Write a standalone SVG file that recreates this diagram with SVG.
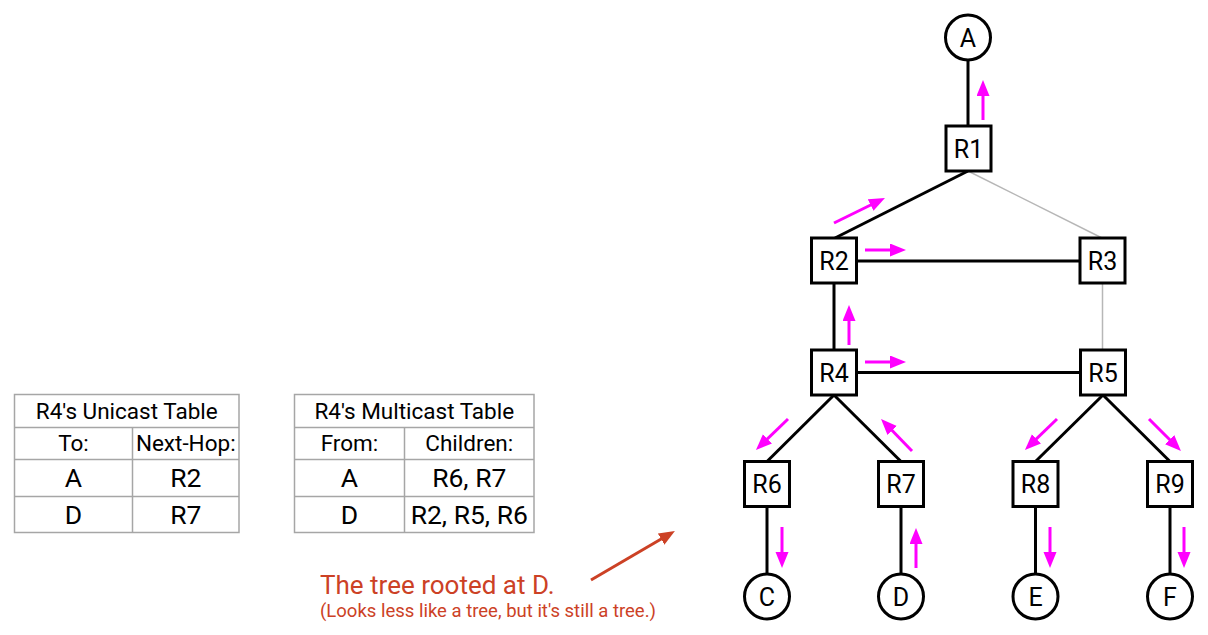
<svg xmlns="http://www.w3.org/2000/svg" width="1208" height="635" viewBox="0 0 1208 635">
<style>
text{font-family:Roboto,"Liberation Sans",sans-serif;fill:#000}
.nl{font-size:25px;text-anchor:middle}
.box{fill:#fff;stroke:#000;stroke-width:3}
.e{stroke:#000;stroke-width:3;fill:none}
.g{stroke:#b7b7b7;stroke-width:1.5;fill:none}
.m{stroke:#ff00ff;stroke-width:3;fill:none;marker-end:url(#mh)}
.tb{fill:#fff;stroke:#a6a6a6;stroke-width:1.5}
.tl{stroke:#a6a6a6;stroke-width:1.5}
.th{font-size:22.5px;text-anchor:middle}
.td{font-size:26.5px;text-anchor:middle}
.ann{fill:#cc4125}
</style>
<defs>
<marker id="mh" markerUnits="userSpaceOnUse" markerWidth="18" markerHeight="14" refX="8" refY="6.5" orient="auto">
<path d="M0,0 L16,6.5 L0,13 z" fill="#ff00ff"/>
</marker>
<marker id="rh" markerUnits="userSpaceOnUse" markerWidth="18" markerHeight="14" refX="8" refY="6.5" orient="auto">
<path d="M0,0 L16,6.5 L0,13 z" fill="#cc4125"/>
</marker>
</defs>
<rect width="1208" height="635" fill="#fff"/>

<g id="connectors">
<line class="e" x1="968" y1="60" x2="968" y2="126"/>
<line class="e" x1="968" y1="171" x2="835" y2="238"/>
<line class="g" x1="968" y1="171" x2="1102" y2="238"/>
<line class="e" x1="857" y1="261" x2="1080" y2="261"/>
<line class="e" x1="834" y1="283" x2="834" y2="350"/>
<line class="g" x1="1102.5" y1="283" x2="1102.5" y2="350"/>
<line class="e" x1="857" y1="372.5" x2="1080" y2="372.5"/>
<line class="e" x1="834" y1="395" x2="767" y2="461.5"/>
<line class="e" x1="834" y1="395" x2="901" y2="461.5"/>
<line class="e" x1="1103" y1="395" x2="1035.5" y2="461.5"/>
<line class="e" x1="1103" y1="395" x2="1170" y2="461.5"/>
<line class="e" x1="767" y1="506.5" x2="767" y2="574"/>
<line class="e" x1="901" y1="506.5" x2="901" y2="574"/>
<line class="e" x1="1035.5" y1="506.5" x2="1035.5" y2="574"/>
<line class="e" x1="1170" y1="506.5" x2="1170" y2="574"/>
</g>

<g id="flow-arrows">
<line class="m" x1="983" y1="120" x2="983" y2="88"/>
<line class="m" x1="834" y1="223" x2="877.8" y2="201.5"/>
<line class="m" x1="865" y1="250" x2="898" y2="250"/>
<line class="m" x1="849" y1="345" x2="849" y2="313"/>
<line class="m" x1="865" y1="362" x2="898" y2="362"/>
<line class="m" x1="788" y1="419" x2="761.7" y2="444.4"/>
<line class="m" x1="912" y1="451" x2="886.6" y2="424.7"/>
<line class="m" x1="1057" y1="419" x2="1030.7" y2="444.4"/>
<line class="m" x1="1149" y1="419" x2="1175.3" y2="445.3"/>
<line class="m" x1="782" y1="527" x2="782" y2="560"/>
<line class="m" x1="916" y1="568" x2="916" y2="536"/>
<line class="m" x1="1050" y1="527" x2="1050" y2="560"/>
<line class="m" x1="1184" y1="527" x2="1184" y2="560"/>
</g>

<g id="A"><circle class="box" cx="968" cy="37.5" r="22.5"/><text class="nl" x="968" y="46.5">A</text></g>
<g id="R1"><rect class="box" x="946" y="126" width="45" height="45"/><text class="nl" x="968.5" y="157.5">R1</text></g>
<g id="R2"><rect class="box" x="811.5" y="238" width="45" height="45"/><text class="nl" x="834" y="269.5">R2</text></g>
<g id="R3"><rect class="box" x="1080" y="238" width="45" height="45"/><text class="nl" x="1102.5" y="269.5">R3</text></g>
<g id="R4"><rect class="box" x="811.5" y="350" width="45" height="45"/><text class="nl" x="834" y="381.5">R4</text></g>
<g id="R5"><rect class="box" x="1080.5" y="350" width="45" height="45"/><text class="nl" x="1103" y="381.5">R5</text></g>
<g id="R6"><rect class="box" x="744.5" y="461.5" width="45" height="45"/><text class="nl" x="767" y="493">R6</text></g>
<g id="R7"><rect class="box" x="878.5" y="461.5" width="45" height="45"/><text class="nl" x="901" y="493">R7</text></g>
<g id="R8"><rect class="box" x="1013" y="461.5" width="45" height="45"/><text class="nl" x="1035.5" y="493">R8</text></g>
<g id="R9"><rect class="box" x="1147.5" y="461.5" width="45" height="45"/><text class="nl" x="1170" y="493">R9</text></g>
<g id="C"><circle class="box" cx="767" cy="596.5" r="22.5"/><text class="nl" x="767" y="605.5">C</text></g>
<g id="D"><circle class="box" cx="901" cy="596.5" r="22.5"/><text class="nl" x="901" y="605.5">D</text></g>
<g id="E"><circle class="box" cx="1035.5" cy="596.5" r="22.5"/><text class="nl" x="1035.5" y="605.5">E</text></g>
<g id="F"><circle class="box" cx="1170" cy="596.5" r="22.5"/><text class="nl" x="1170" y="605.5">F</text></g>

<g id="unicast-table">
<rect class="tb" x="14.5" y="394.5" width="224.5" height="138"/>
<line class="tl" x1="14.5" y1="427.5" x2="239" y2="427.5"/>
<line class="tl" x1="14.5" y1="459.5" x2="239" y2="459.5"/>
<line class="tl" x1="14.5" y1="496.5" x2="239" y2="496.5"/>
<line class="tl" x1="132.5" y1="427.5" x2="132.5" y2="532.5"/>
<text class="th" x="126.75" y="418.5">R4's Unicast Table</text>
<text class="th" x="73.5" y="451">To:</text>
<text class="th" x="185.75" y="451">Next-Hop:</text>
<text class="td" x="73.5" y="487">A</text>
<text class="td" x="185.75" y="487">R2</text>
<text class="td" x="73.5" y="523.5">D</text>
<text class="td" x="185.75" y="523.5">R7</text>
</g>

<g id="multicast-table">
<rect class="tb" x="294.5" y="394.5" width="239.5" height="138"/>
<line class="tl" x1="294.5" y1="427.5" x2="534" y2="427.5"/>
<line class="tl" x1="294.5" y1="459.5" x2="534" y2="459.5"/>
<line class="tl" x1="294.5" y1="496.5" x2="534" y2="496.5"/>
<line class="tl" x1="404.5" y1="427.5" x2="404.5" y2="532.5"/>
<text class="th" x="414.25" y="418.5">R4's Multicast Table</text>
<text class="th" x="349.5" y="451">From:</text>
<text class="th" x="469.25" y="451">Children:</text>
<text class="td" x="349.5" y="487">A</text>
<text class="td" x="469.25" y="487">R6, R7</text>
<text class="td" x="349.5" y="523.5">D</text>
<text class="td" x="469.25" y="523.5">R2, R5, R6</text>
</g>

<g id="annotation">
<line x1="591" y1="580" x2="668" y2="535" stroke="#cc4125" stroke-width="3" marker-end="url(#rh)"/>
<text class="ann" x="320" y="594" font-size="26">The tree rooted at D.</text>
<text class="ann" x="320" y="617" font-size="18.5">(Looks less like a tree, but it's still a tree.)</text>
</g>
</svg>
